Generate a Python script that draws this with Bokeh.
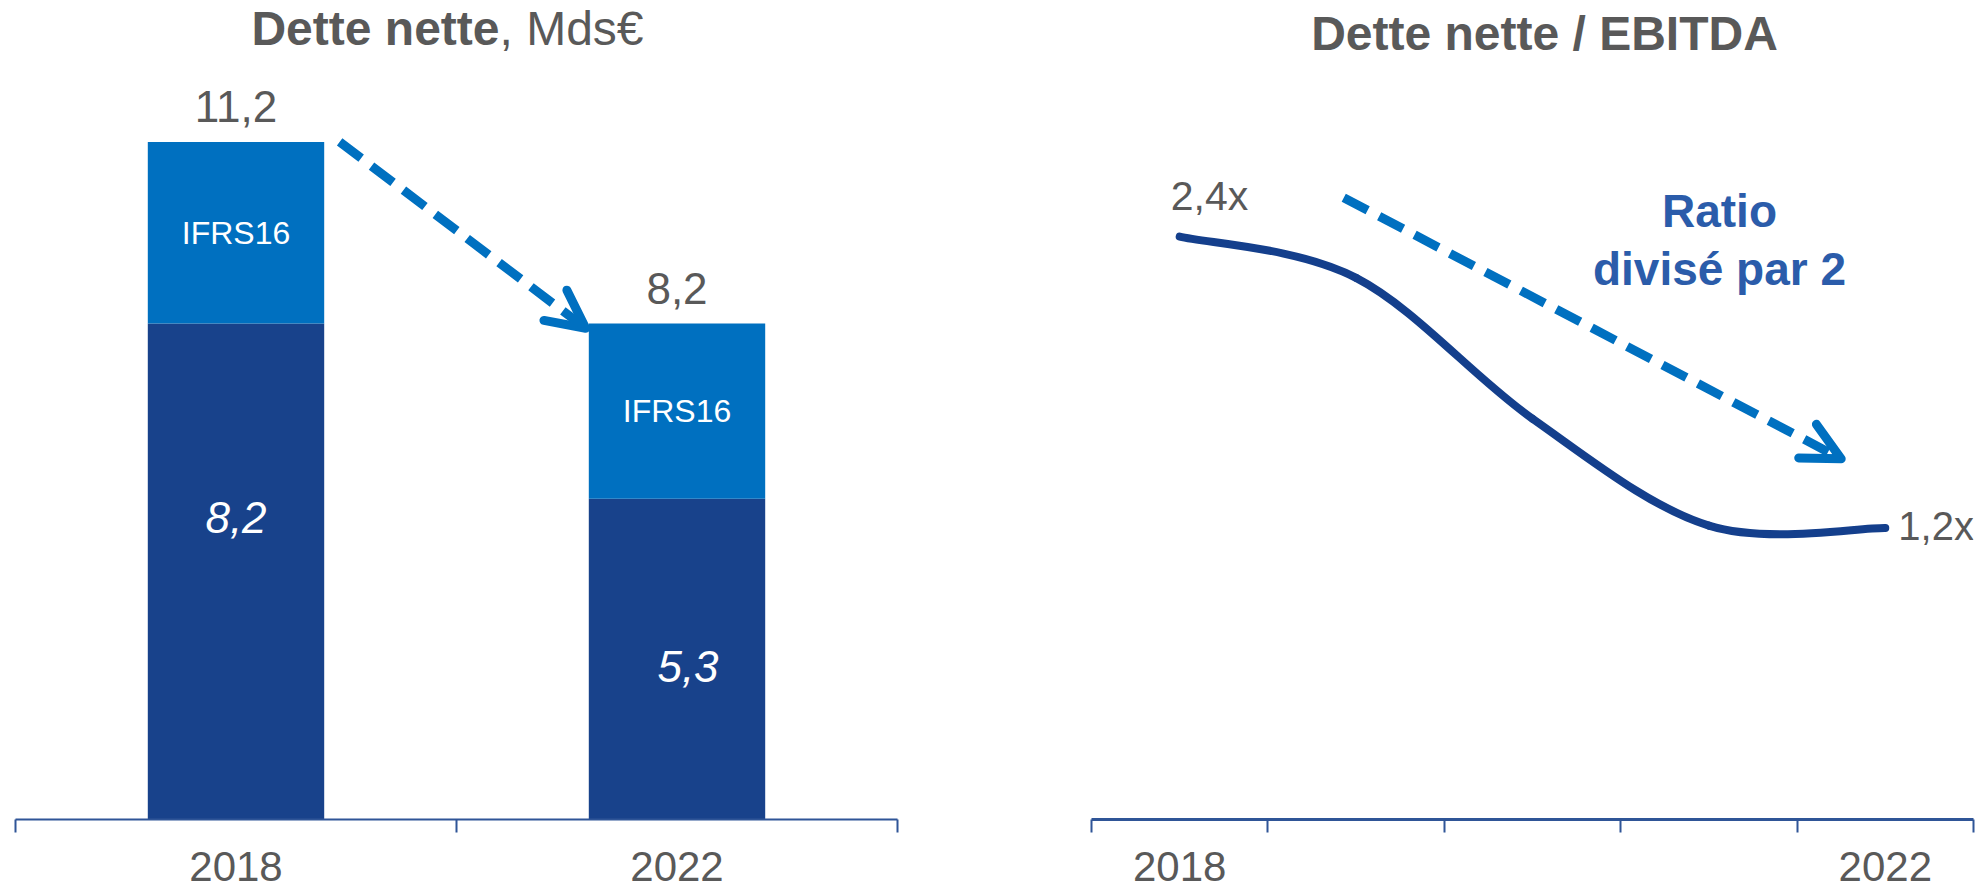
from bokeh.plotting import figure
from bokeh.layouts import row
from bokeh.models import Range1d, FixedTicker, Arrow, OpenHead, Label
from bokeh.core.properties import value
from bokeh.embed import file_html
from bokeh.resources import INLINE

# ---------------- data ----------------
bar_years = ["2018", "2022"]
dette_hors_ifrs16 = [8.2, 5.3]
ifrs16 = [3.0, 2.9]

line_years = ["2018", "2019", "2020", "2021", "2022"]
ratio = [2.4, 2.23, 1.65, 1.21, 1.2]

# ---------------- style ----------------
FONT = value("Liberation Sans")
DARK = "#18428B"
LIGHT = "#0070C0"
NAVY = "#143F8C"
GREY = "#595959"
AXIS = "#2F5597"
RATIO_TXT = "#2B5CAA"
H = 890
FRAME_H = 819


def fr(v):
    return f"{v:.1f}".replace(".", ",")


def style_axis(p, ticks, minor, labels, width):
    ax = p.xaxis[0]
    ax.ticker = FixedTicker(ticks=ticks, minor_ticks=minor)
    ax.major_label_overrides = labels
    ax.major_tick_out = 0
    ax.major_tick_in = 0
    ax.minor_tick_in = 0
    ax.minor_tick_out = 13
    ax.axis_line_color = AXIS
    ax.axis_line_width = width
    ax.minor_tick_line_color = AXIS
    ax.minor_tick_line_width = 2
    ax.major_label_text_font = "Liberation Sans"
    ax.major_label_text_font_size = "42px"
    ax.major_label_text_color = GREY
    ax.major_label_standoff = 19
    p.xgrid.visible = False
    p.ygrid.visible = False
    p.outline_line_color = None


def label(p, x, y, text, size, color, bold=False, align="center"):
    p.add_layout(Label(x=x, y=y, text=text, text_align=align,
                       text_baseline="middle", text_font="Liberation Sans",
                       text_font_style="bold" if bold else "normal",
                       text_font_size=size, text_color=color))


# ---------------- left: net debt bars ----------------
PX1 = 60.5  # pixels per unit
p1 = figure(width=1008, height=H, x_range=Range1d(0, len(bar_years)),
            y_range=Range1d(0, FRAME_H / PX1), output_backend="svg",
            toolbar_location=None, y_axis_location=None,
            min_border_left=15, min_border_right=111, min_border_top=0,
            min_border_bottom=H - FRAME_H)

xs = [i + 0.5 for i in range(len(bar_years))]
totals = [round(a + b, 1) for a, b in zip(dette_hors_ifrs16, ifrs16)]

p1.vbar(x=xs, bottom=0, top=dette_hors_ifrs16, width=0.4,
        fill_color=DARK, line_color=None)
p1.vbar(x=xs, bottom=dette_hors_ifrs16, top=totals, width=0.4,
        fill_color=LIGHT, line_color=None)

p1.text(x=xs, y=totals, text=[fr(t) for t in totals], text_align="center",
        text_baseline="middle", y_offset=-35, text_font=FONT,
        text_font_size="44px", text_color=GREY)

p1.text(x=xs, y=[d + i / 2 for d, i in zip(dette_hors_ifrs16, ifrs16)],
        text=["IFRS16"] * len(xs), text_align="center", text_baseline="middle",
        text_font=FONT, text_font_size="32px", text_color="white")

inner_y = [5.0, 2.53]
inner_dx = [0, 11]
p1.text(x=xs, y=inner_y, text=[fr(d) for d in dette_hors_ifrs16],
        x_offset=inner_dx, text_align="center", text_baseline="middle",
        text_font=FONT, text_font_size="44px", text_font_style="italic",
        text_color="white")

p1.add_layout(Arrow(x_start=xs[0] + 0.235, y_start=totals[0],
                    x_end=xs[1] - 0.207, y_end=totals[1] - 0.08,
                    line_color=LIGHT, line_width=9, line_dash="27 13",
                    end=OpenHead(size=38, line_color=LIGHT, line_width=9,
                                 line_join="round", line_cap="round")))

label(p1, 1.0975, 13.07, "Dette nette", "48px", GREY, bold=True, align="right")
label(p1, 1.0975, 13.07, ", Mds€", "48px", GREY, align="left")

style_axis(p1, xs, list(range(len(bar_years) + 1)),
           {x: y for x, y in zip(xs, bar_years)}, 2)

# ---------------- right: net debt / EBITDA ----------------
PX2 = 242.9
n = len(line_years)
p2 = figure(width=978, height=H, x_range=Range1d(0, n),
            y_range=Range1d(0, FRAME_H / PX2), output_backend="svg",
            toolbar_location=None, y_axis_location=None,
            min_border_left=83, min_border_right=13, min_border_top=0,
            min_border_bottom=H - FRAME_H)

lx = [i + 0.5 for i in range(n)]
pts = list(zip(lx, ratio))
x0, y0, x1, y1, cx0, cy0, cx1, cy1 = ([] for _ in range(8))
for i in range(n - 1):
    pa = pts[max(i - 1, 0)]
    pb = pts[i]
    pc = pts[i + 1]
    pd = pts[min(i + 2, n - 1)]
    x0.append(pb[0]); y0.append(pb[1])
    x1.append(pc[0]); y1.append(pc[1])
    cx0.append(pb[0] + (pc[0] - pa[0]) / 6); cy0.append(pb[1] + (pc[1] - pa[1]) / 6)
    cx1.append(pc[0] - (pd[0] - pb[0]) / 6); cy1.append(pc[1] - (pd[1] - pb[1]) / 6)

p2.bezier(x0=x0, y0=y0, x1=x1, y1=y1, cx0=cx0, cy0=cy0, cx1=cx1, cy1=cy1,
          line_color=NAVY, line_width=8, line_cap="round")

p2.text(x=[lx[0]], y=[ratio[0]], text=[fr(ratio[0]) + "x"], x_offset=-9,
        y_offset=-41, text_align="left", text_baseline="middle",
        text_font=FONT, text_font_size="41px", text_color=GREY)
p2.text(x=[lx[-1]], y=[ratio[-1]], text=[fr(ratio[-1]) + "x"], x_offset=13,
        y_offset=-2, text_align="left", text_baseline="middle",
        text_font=FONT, text_font_size="40px", text_color=GREY)

label(p2, 2.568, 3.234, "Dette nette / EBITDA", "48px", GREY, bold=True)
label(p2, 3.56, 2.507, "Ratio", "46px", RATIO_TXT, bold=True)
label(p2, 3.56, 2.268, "divisé par 2", "46px", RATIO_TXT, bold=True)

p2.add_layout(Arrow(x_start=1.43, y_start=2.56, x_end=4.25, y_end=1.485,
                    line_color=LIGHT, line_width=9, line_dash="27 13",
                    end=OpenHead(size=38, line_color=LIGHT, line_width=9,
                                 line_join="round", line_cap="round")))

style_axis(p2, [lx[0], lx[-1]], list(range(n + 1)),
           {lx[0]: line_years[0], lx[-1]: line_years[-1]}, 3)

layout = row(p1, p2)
open("out.html", "w").write(file_html(layout, INLINE))
